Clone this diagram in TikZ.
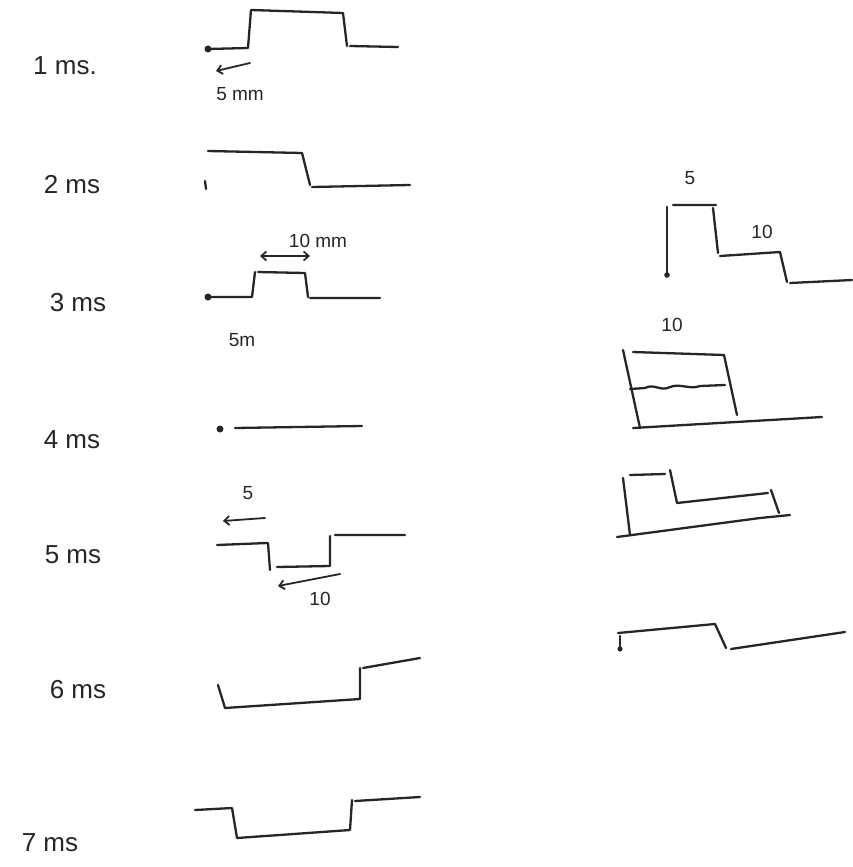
\documentclass[tikz,border=0pt]{standalone}
\usepackage{fontspec}
\setmainfont{Liberation Sans}
\usetikzlibrary{arrows.meta}
\begin{document}
\begin{tikzpicture}[x=1pt,y=-1pt,
  wave/.style={line width=2.3pt,line join=round,line cap=round,draw=black!85},
  dim/.style={line width=1.8pt,draw=black!85,line cap=round,-{Straight Barb[length=5pt,width=9pt,line width=1.8pt]}},
  dimb/.style={line width=1.8pt,draw=black!85,line cap=round,{Straight Barb[length=5pt,width=9pt,line width=1.8pt]}-{Straight Barb[length=5pt,width=9pt,line width=1.8pt]}},
  lab/.style={font=\fontsize{26}{28}\selectfont,text=black!85,inner sep=0pt},
  small/.style={font=\fontsize{19}{21}\selectfont,text=black!85,inner sep=0pt},
  pt/.style={fill=black!85,draw=none}]
\useasboundingbox (0,0) rectangle (852,867);
\fill[white] (0,0) rectangle (852,867);
% row labels
\node[lab] (l1) at (65,66) {1 ms.};
\node[lab] (l2) at (72,185) {2 ms};
\node[lab] (l3) at (78,303) {3 ms};
\node[lab] (l4) at (72,440) {4 ms};
\node[lab] (l5) at (73,555) {5 ms};
\node[lab] (l6) at (78,690) {6 ms};
\node[lab] (l7) at (50,843) {7 ms};
% 1 ms
\fill[pt] (208,49) circle (3.5);
\draw[wave] (208,49) -- (248,48) -- (251,10) -- (343,13) -- (347,46) (350,46) -- (398,47);
\draw[dim] (250,63) -- (216,71);
\node[small] (t1) at (240,94) {5 mm};
% 2 ms
\draw[wave] (205,181) -- (206,189);
\draw[wave] (208,151) -- (302,153) -- (310,185) (312,187) -- (410,185);
% 3 ms
\node[small] (t3a) at (318,241) {10 mm};
\draw[dimb] (260,256) -- (310,256);
\fill[pt] (208,297) circle (3.5);
\draw[wave] (208,297) -- (252,297) -- (255,272) (258,272) -- (305,273) -- (308,297) (310,298) -- (380,298);
\node[small] (t3b) at (242,340) {5m};
% 4 ms
\fill[pt] (220,429) circle (3.5);
\draw[wave] (235,428) -- (362,426);
% 5 ms
\node[small] (t5a) at (248,493) {5};
\draw[dim] (265,518) -- (223,521);
\draw[wave] (217,545) -- (267,543) (268,543) -- (270,570) (277,567) -- (330,566) -- (330,536) (335,535) -- (405,535);
\draw[dim] (340,574) -- (278,586);
\node[small] (t5b) at (320,599) {10};
% 6 ms
\draw[wave] (218,685) -- (225,708) -- (360,699) -- (360,668) (363,668) -- (420,658);
% 7 ms
\draw[wave] (195,810) -- (232,808) -- (237,838) -- (350,830) -- (352,800) (355,801) -- (420,797);
% right 1
\node[small] (r1a) at (690,178) {5};
\fill[pt] (667,275) circle (2.8);
\draw[wave] (667,207) -- (667,275);
\draw[wave] (673,205) -- (716,205) (713,208) -- (718,253) (720,256) -- (780,252) -- (787,282) (790,283) -- (852,280);
\node[small] (r1b) at (762,232) {10};
% right 2
\node[small] (r2a) at (672,325) {10};
\draw[wave] (623,350) -- (640,428);
\draw[wave] (633,352) -- (724,355) -- (737,415);
\draw[wave] (630,389) -- (645,388) .. controls (655,383) and (660,392) .. (670,387) .. controls (680,383) and (690,390) .. (700,386) -- (725,385);
\draw[wave] (633,428) -- (822,417);
% right 3
\draw[wave] (623,478) -- (630,535);
\draw[wave] (630,475) -- (665,474) (670,470) -- (677,503) -- (768,493) (771,490) -- (779,513);
\draw[wave] (617,537) -- (760,518) -- (790,515);
% right 4
\fill[pt] (620,649) circle (2.6);
\draw[wave] (620,636) -- (620,649);
\draw[wave] (618,633) -- (715,624) -- (726,648) (731,649) -- (845,632);
\end{tikzpicture}
\end{document}
